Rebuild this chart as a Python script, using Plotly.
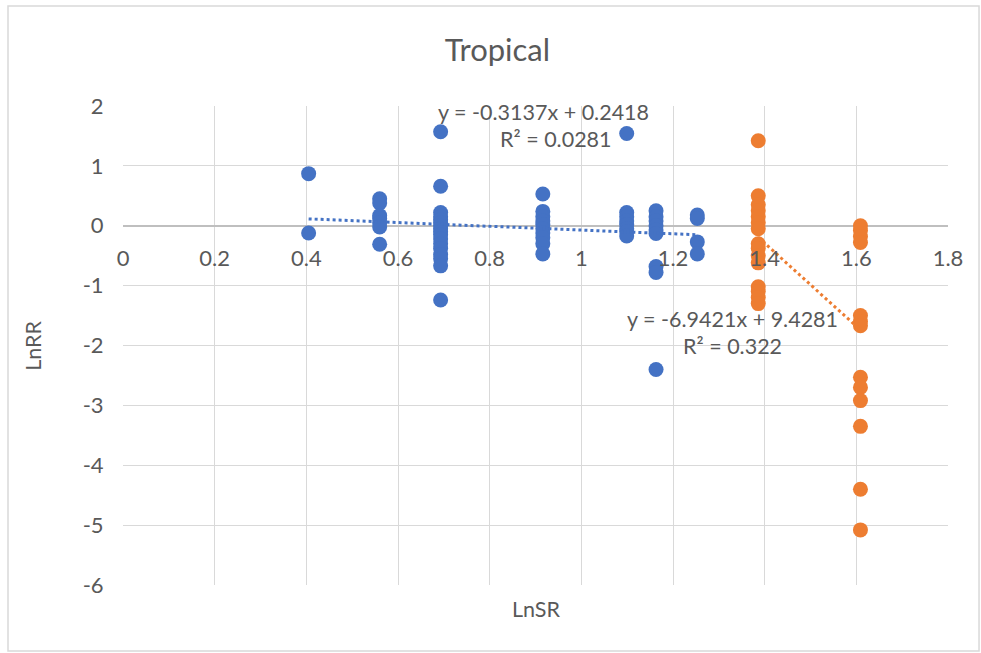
import plotly.graph_objects as go

# LnSR levels (log of species richness) for each group of observations
blue_x_levels = [0.405, 0.560, 0.693, 0.916, 1.099, 1.163, 1.253]
blue_y_groups = [
    [0.87, -0.12],
    [0.45, 0.38, 0.17, 0.12, 0.05, -0.02, -0.31],
    [1.57, 0.66, 0.22, 0.15, 0.10, 0.05, 0.00, -0.05, -0.10, -0.15, -0.22,
     -0.30, -0.38, -0.48, -0.55, -0.67, -1.24],
    [0.53, 0.24, 0.15, 0.08, 0.02, -0.05, -0.12, -0.20, -0.30, -0.47],
    [1.54, 0.22, 0.15, 0.08, 0.02, -0.05, -0.10, -0.17],
    [0.25, 0.15, 0.08, 0.00, -0.07, -0.13, -0.68, -0.78, -2.40],
    [0.18, 0.12, -0.27, -0.47],
]
orange_x_levels = [1.386, 1.609]
orange_y_groups = [
    [1.42, 0.50, 0.35, 0.25, 0.15, 0.05, -0.05, -0.30, -0.38, -0.50, -0.62,
     -1.02, -1.10, -1.20, -1.30],
    [0.00, -0.08, -0.18, -0.28, -1.50, -1.60, -1.67, -2.53, -2.70, -2.92,
     -3.35, -4.40, -5.08],
]

# Linear trendline coefficients (slope, intercept) and R²
blue_fit = (-0.3137, 0.2418, 0.0281)
orange_fit = (-6.9421, 9.4281, 0.322)

x_ticks = [0, 0.2, 0.4, 0.6, 0.8, 1, 1.2, 1.4, 1.6, 1.8]
y_ticks = [2, 1, 0, -1, -2, -3, -4, -5, -6]

BLUE = "#4472C4"
ORANGE = "#ED7D31"
TEXT = "#595959"
GRID = "#D9D9D9"
FONT = "Lato"


def flatten(levels, groups):
    xs, ys = [], []
    for x, g in zip(levels, groups):
        xs += [x] * len(g)
        ys += g
    return xs, ys


bx, by = flatten(blue_x_levels, blue_y_groups)
ox, oy = flatten(orange_x_levels, orange_y_groups)

fig = go.Figure()
fig.add_trace(go.Scatter(x=bx, y=by, mode="markers",
                         marker=dict(color=BLUE, size=15), showlegend=False))
fig.add_trace(go.Scatter(x=ox, y=oy, mode="markers",
                         marker=dict(color=ORANGE, size=15), showlegend=False))


def trend(xs, fit, color):
    x0, x1 = min(xs), max(xs)
    m, b, _ = fit
    fig.add_trace(go.Scatter(x=[x0, x1], y=[m * x0 + b, m * x1 + b],
                             mode="lines", showlegend=False,
                             line=dict(color=color, width=3, dash="dot")))


trend(bx, blue_fit, BLUE)
trend(ox, orange_fit, ORANGE)


def eq_text(fit):
    m, b, r2 = fit
    sign = "+" if b >= 0 else "-"
    return f"y = {m:.4f}x {sign} {abs(b):.4f}", f"R² = {r2:g}"


ann_font = dict(family=FONT, size=21.5, color=TEXT)
b1, b2 = eq_text(blue_fit)
o1, o2 = eq_text(orange_fit)
for txt, xv, yv in [(b1, 0.917, 1.90), (b2, 0.945, 1.45),
                    (o1, 1.33, -1.55), (o2, 1.33, -2.0)]:
    fig.add_annotation(x=xv, y=yv, text=txt, showarrow=False,
                       xanchor="center", yanchor="middle", font=ann_font)

# Axis titles
fig.add_annotation(xref="paper", yref="paper", x=0.5, y=-0.05, text="LnSR",
                   showarrow=False, yanchor="middle",
                   font=dict(family=FONT, size=21.5, color=TEXT))
fig.add_annotation(xref="paper", yref="paper", x=-0.11, y=0.5, text="LnRR",
                   showarrow=False, textangle=-90, xanchor="center",
                   font=dict(family=FONT, size=21.5, color=TEXT))

# Outer chart border
fig.add_shape(type="rect", xref="paper", yref="paper",
              x0=-0.1394, x1=1.0376, y0=-0.1378, y1=1.2088,
              line=dict(color=GRID, width=1.5), fillcolor="rgba(0,0,0,0)",
              layer="below")

fig.update_layout(
    width=981, height=653,
    margin=dict(l=123, r=33, t=106, b=68),
    paper_bgcolor="white", plot_bgcolor="white",
    title=dict(text="Tropical", x=0.507, xanchor="center", y=0.923,
               yanchor="middle", font=dict(family=FONT, size=31, color=TEXT)),
    font=dict(family=FONT, color=TEXT),
    xaxis=dict(range=[0, 1.8], tickvals=x_ticks,
               ticktext=[f"{v:g}" for v in x_ticks],
               showgrid=True, gridcolor=GRID, gridwidth=1.3,
               zeroline=False, showline=False,
               anchor="free", position=0.75,
               ticks="outside", ticklen=13, tickcolor="rgba(0,0,0,0)",
               tickfont=dict(family=FONT, size=22, color=TEXT)),
    yaxis=dict(range=[-6, 2], tickvals=y_ticks,
               ticktext=[f"{v:g}" for v in y_ticks],
               showgrid=True, gridcolor=GRID, gridwidth=1.3,
               zeroline=True, zerolinecolor="#BFBFBF", zerolinewidth=1.6,
               showline=False,
               ticks="outside", ticklen=14, tickcolor="rgba(0,0,0,0)",
               tickfont=dict(family=FONT, size=22, color=TEXT)),
)

fig.write_html("out.html")
